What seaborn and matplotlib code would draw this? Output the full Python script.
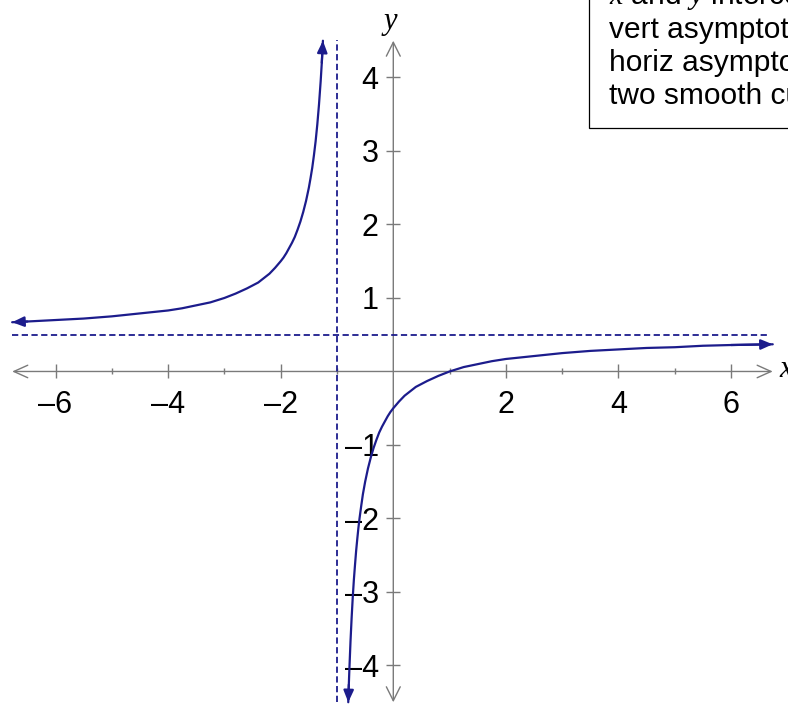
import matplotlib
matplotlib.use("Agg")
import matplotlib.pyplot as plt
from matplotlib.patches import Rectangle
from matplotlib.ticker import FixedLocator
import pandas as pd
import seaborn as sns

# Branch of the curve left of the vertical asymptote
left_x = [-6.77, -6.5, -6.0, -5.5, -5.0, -4.5, -4.0, -3.75, -3.5, -3.25, -3.0, -2.8,
          -2.6, -2.5, -2.4, -2.3, -2.2, -2.1, -2.0, -1.95, -1.9, -1.85, -1.8, -1.75,
          -1.7, -1.65, -1.6, -1.55, -1.5, -1.47, -1.44, -1.41, -1.38, -1.35, -1.32,
          -1.29, -1.27, -1.25]
left_y = [0.67, 0.68, 0.70, 0.72, 0.75, 0.79, 0.83, 0.86, 0.90, 0.94, 1.00, 1.06,
          1.13, 1.17, 1.21, 1.27, 1.33, 1.41, 1.50, 1.55, 1.61, 1.68, 1.75, 1.83,
          1.93, 2.04, 2.17, 2.32, 2.50, 2.63, 2.77, 2.94, 3.13, 3.36, 3.63,
          3.95, 4.20, 4.50]

# Branch right of the vertical asymptote
right_x = [-0.8, -0.79, -0.78, -0.76, -0.74, -0.72, -0.7, -0.68, -0.66, -0.64, -0.62,
           -0.6, -0.57, -0.54, -0.5, -0.45, -0.4, -0.35, -0.3, -0.25, -0.2, -0.15,
           -0.1, -0.05, 0.0, 0.1, 0.2, 0.3, 0.4, 0.5, 0.6, 0.8, 1.0, 1.25, 1.5, 1.75,
           2.0, 2.5, 3.0, 3.5, 4.0, 4.5, 5.0, 5.5, 6.0, 6.74]
right_y = [-4.50, -4.26, -4.05, -3.67, -3.35, -3.07, -2.83, -2.63, -2.44, -2.28, -2.13,
           -2.00, -1.83, -1.67, -1.50, -1.32, -1.17, -1.04, -0.93, -0.83, -0.75, -0.68,
           -0.61, -0.55, -0.50, -0.41, -0.33, -0.27, -0.21, -0.17, -0.13, -0.06, 0.00,
           0.06, 0.10, 0.14, 0.17, 0.21, 0.25, 0.28, 0.30, 0.32, 0.33, 0.35, 0.36, 0.37]

# Asymptotes
horiz_asym = 0.5
vert_asym = -1.0
horiz_span = [-6.77, 6.69]
vert_span = [-4.50, 4.51]

# Axes arrows
x_axis_span = [-6.77, 6.74]
y_axis_span = [-4.50, 4.50]

# Ticks
x_major = [-6, -4, -2, 2, 4, 6]
x_major_labels = ["–6", "–4", "–2", "2", "4", "6"]
x_minor = [-5, -3, -1, 1, 3, 5]
y_major = [-4, -3, -2, -1, 1, 2, 3, 4]
y_major_labels = ["–4", "–3", "–2", "–1", "1", "2", "3", "4"]

notes = ["$x$ and $y$ intercepts", "vert asymptote", "horiz asymptote", "two smooth curves"]

sns.set_theme(style="white")
plt.rcParams["font.family"] = ["Liberation Sans", "DejaVu Sans"]
plt.rcParams["mathtext.fontset"] = "custom"
plt.rcParams["mathtext.it"] = "Liberation Serif:italic"
plt.rcParams["mathtext.rm"] = "Liberation Serif"
plt.rcParams["lines.scale_dashes"] = False

curve_color = "#1c1c8c"
axis_color = "#7a7a7a"

fig = plt.figure(figsize=(7.88, 7.04), dpi=100)
ax = fig.add_axes([0, 0, 1, 1])
ax.set_xlim(-6.986, 7.011)
ax.set_ylim(-4.524, 5.054)
ax.set_facecolor("white")

for side in ["left", "bottom"]:
    ax.spines[side].set_position(("data", 0))
for side in ax.spines:
    ax.spines[side].set_color("none")

# Axis lines with open arrowheads
ax.annotate("", xy=(x_axis_span[1], 0), xytext=(x_axis_span[0], 0),
            arrowprops=dict(arrowstyle="<->,head_length=1.0,head_width=0.45",
                            color=axis_color, lw=1.0, shrinkA=0, shrinkB=0,
                            mutation_scale=10), zorder=1)
ax.annotate("", xy=(0, y_axis_span[1]), xytext=(0, y_axis_span[0]),
            arrowprops=dict(arrowstyle="<->,head_length=1.0,head_width=0.5",
                            color=axis_color, lw=1.0, shrinkA=0, shrinkB=0,
                            mutation_scale=10), zorder=1)

ax.set_xticks(x_major)
ax.set_xticklabels(x_major_labels)
ax.xaxis.set_minor_locator(FixedLocator(x_minor))
ax.set_yticks(y_major)
ax.set_yticklabels(y_major_labels)
ax.tick_params(axis="x", which="major", direction="inout", length=10, width=1.0,
               color=axis_color, pad=8.5, labelsize=22, labelcolor="black",
               bottom=True)
ax.tick_params(axis="x", which="minor", direction="inout", length=5, width=1.0,
               color=axis_color, bottom=True)
ax.tick_params(axis="y", which="major", direction="inout", length=10, width=1.0,
               color=axis_color, pad=5.5, labelsize=22, labelcolor="black", left=True)
ax.grid(False)

# Asymptotes
dash = (0, (4.5, 2.5))
ax.plot(horiz_span, [horiz_asym, horiz_asym], color=curve_color, lw=1.3,
        linestyle=dash, zorder=2)
ax.plot([vert_asym, vert_asym], vert_span, color=curve_color, lw=1.3,
        linestyle=dash, zorder=2)

# Curves
left_df = pd.DataFrame({"x": left_x, "y": left_y})
right_df = pd.DataFrame({"x": right_x, "y": right_y})
for df in (left_df, right_df):
    sns.lineplot(data=df, x="x", y="y", sort=False, estimator=None,
                 color=curve_color, lw=1.6, ax=ax, zorder=3,
                 solid_joinstyle="round", solid_capstyle="round")
ax.set_xlabel("")
ax.set_ylabel("")

# Filled arrowheads at the curve ends
head = "-|>,head_length=0.7,head_width=0.3"
for xs, ys, i, j in [(left_x, left_y, 0, 1), (left_x, left_y, -1, -2),
                     (right_x, right_y, 0, 1), (right_x, right_y, -1, -2)]:
    ax.annotate("", xy=(xs[i], ys[i]), xytext=(xs[j], ys[j]),
                arrowprops=dict(arrowstyle=head, color=curve_color, lw=1.6,
                                shrinkA=0, shrinkB=0, mutation_scale=10),
                zorder=4)

# Axis names
fig.text(390 / 788, 1 - 29 / 704, "y", fontsize=22, ha="center", va="baseline",
         family="Liberation Serif", style="italic", color="black")
fig.text(779 / 788, 1 - 377 / 704, "x", fontsize=22, ha="left", va="baseline",
         family="Liberation Serif", style="italic", color="black")

# Notes box in the top right corner
fig.add_artist(Rectangle((589 / 788, 1 - 128 / 704), 0.4, 0.3,
                         transform=fig.transFigure, facecolor="white",
                         edgecolor="black", lw=0.9, zorder=5))
baselines = [4, 37.5, 71, 104.5]
for line, b in zip(notes, baselines):
    fig.text(609 / 788, 1 - b / 704, line, fontsize=21.5, ha="left", va="baseline",
             color="black", zorder=6)

fig.savefig("out.png", dpi=100)
